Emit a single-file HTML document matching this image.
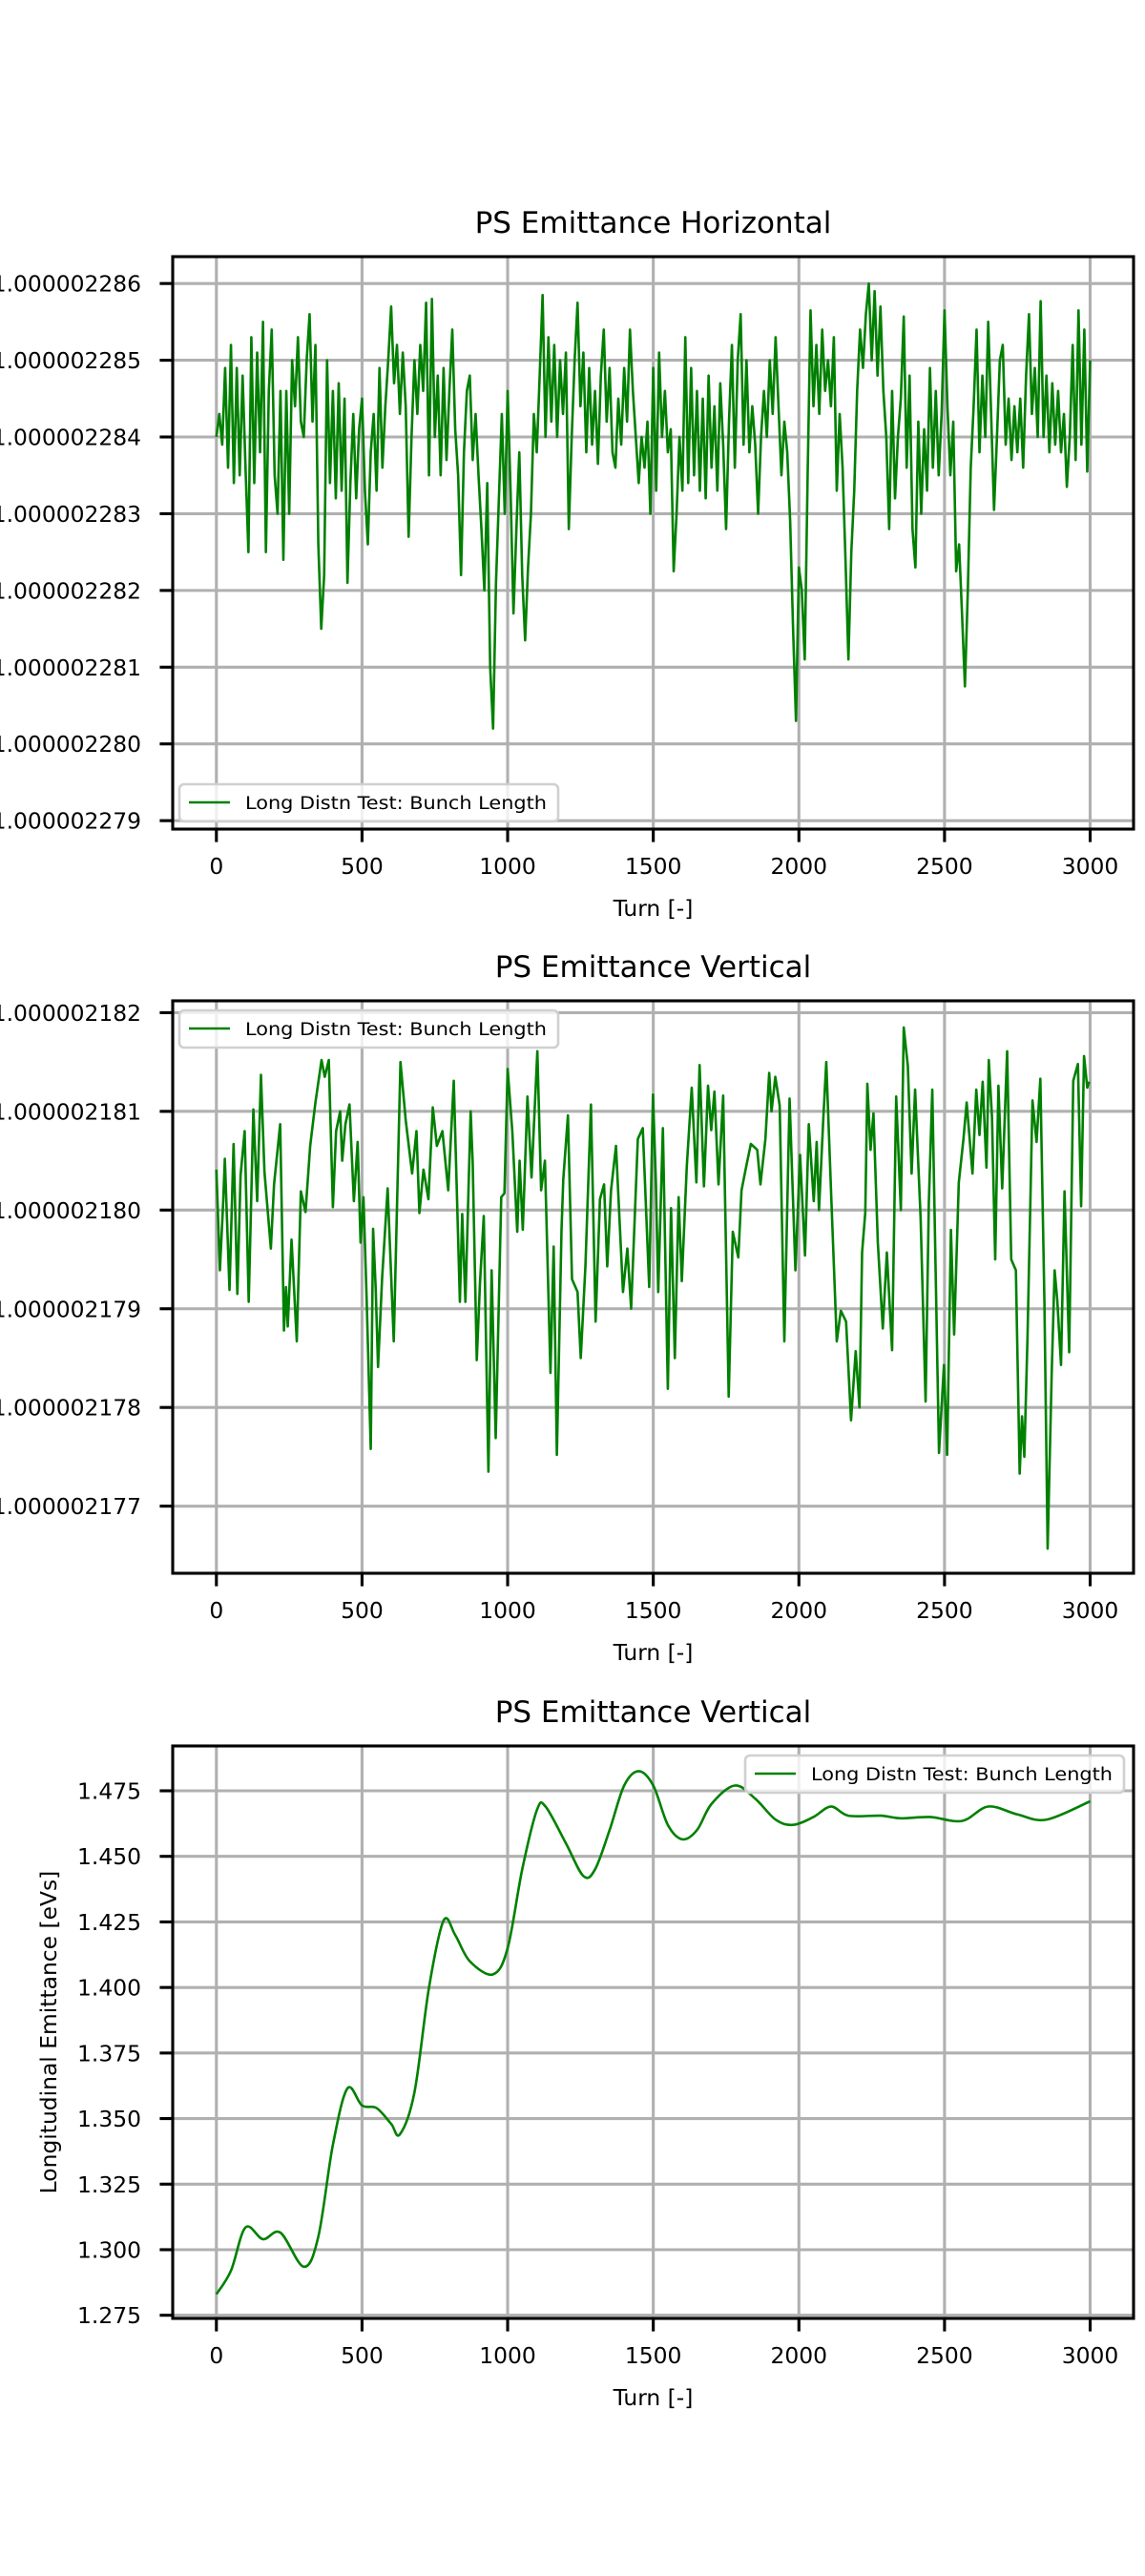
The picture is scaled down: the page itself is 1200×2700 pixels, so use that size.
<!DOCTYPE html>
<html><head><meta charset="utf-8"><title>PS Emittance</title>
<style>html,body{margin:0;padding:0;background:#fff;}svg{display:block;font-family:"DejaVu Sans","Liberation Sans",sans-serif;}</style>
</head><body>
<svg id="fig" width="1200" height="2700" viewBox="0 0 1200 2700" xmlns="http://www.w3.org/2000/svg"></svg>
<script>
// ---------- data ----------
const xTicks = [0, 500, 1000, 1500, 2000, 2500, 3000];
// Chart 1: values are (v - 1.000002280) in units of 1e-9; sampled every turnStep1 turns
const turnStep1 = 10;
const hVals = [4.0,4.3,3.9,4.9,3.6,5.2,3.4,4.9,3.5,4.8,3.6,
2.5,5.3,3.4,5.1,3.8,5.5,2.5,4.6,5.4,3.5,
3.0,4.6,2.4,4.6,3.0,5.0,4.4,5.3,4.2,4.0,
5.0,5.6,4.2,5.2,2.6,1.5,2.2,5.0,3.4,4.6,
3.2,4.7,3.3,4.5,2.1,3.4,4.3,3.2,4.1,4.5,
3.3,2.6,3.8,4.3,3.3,4.9,3.6,4.4,5.0,5.7,
4.7,5.2,4.3,5.1,4.4,2.7,4.0,5.0,4.3,5.2,
4.6,5.75,3.5,5.8,4.0,4.8,3.5,4.9,3.7,4.6,
5.4,4.1,3.5,2.2,3.8,4.6,4.8,3.7,4.3,3.5,
2.8,2.0,3.4,1.0,0.2,2.1,3.2,4.3,3.0,4.6,
3.3,1.7,2.8,3.8,2.2,1.35,2.3,3.0,4.3,3.8,
4.8,5.85,4.0,5.3,4.2,5.2,4.0,5.0,4.3,5.1,
2.8,4.0,5.0,5.75,4.4,5.1,3.8,4.9,3.9,4.6,
3.65,4.8,5.4,4.2,4.9,3.8,3.6,4.5,3.9,4.9,
4.2,5.4,4.6,4.0,3.4,4.0,3.6,4.2,3.0,4.9,
3.3,5.1,4.0,4.6,3.8,4.1,2.25,3.0,4.0,3.3,
5.3,3.4,4.9,3.5,4.6,3.3,4.5,3.2,4.8,3.6,
4.4,3.3,4.7,3.9,2.8,4.2,5.2,3.6,5.0,5.6,
3.9,5.0,3.8,4.4,3.9,3.0,4.0,4.6,4.0,5.0,
4.3,5.3,4.4,3.5,4.2,3.8,2.9,1.5,0.3,2.3,
2.0,1.1,3.5,5.65,4.4,5.2,4.3,5.4,4.6,5.0,
4.4,5.3,3.3,4.3,3.6,2.4,1.1,2.5,3.3,4.6,
5.4,4.9,5.6,6.0,5.0,5.9,4.8,5.7,4.6,4.0,
2.8,4.6,3.2,4.0,4.5,5.57,3.6,4.8,2.8,2.3,
4.2,3.0,4.1,3.3,4.9,3.6,4.6,3.5,4.3,5.65,
4.4,3.5,4.2,2.25,2.6,1.7,0.75,2.0,3.6,4.4,
5.4,3.8,4.8,4.0,5.5,4.3,3.05,4.0,5.0,5.2,
3.9,4.5,3.7,4.4,3.8,4.5,3.6,4.8,5.6,4.3,
4.9,4.0,5.77,4.0,4.8,3.8,4.7,3.9,4.6,3.8,
4.3,3.35,4.0,5.2,3.7,5.65,3.9,5.4,3.55,5.0];
const hTickVals = [279,280,281,282,283,284,285,286];
const hTickLabels = ["1.000002279","1.000002280","1.000002281","1.000002282","1.000002283","1.000002284","1.000002285","1.000002286"];

// Chart 2: values in units of 1e-10 (80 -> 1.0000021800)
const vTurns = [0,12,23,29,45,59,72,83,97,111,127,140,153,165,187,198,219,232,239,245,258,276,290,306,322,340,361,372,386,400,411,425,432,443,457,472,485,495,505,516,530,538,547,555,569,588,609,632,650,672,687,697,711,728,743,757,776,796,815,836,844,855,873,880,894,905,918,934,945,959,978,989,1000,1016,1033,1041,1052,1068,1082,1102,1115,1128,1147,1158,1169,1185,1191,1207,1221,1240,1251,1267,1286,1302,1317,1331,1342,1355,1372,1396,1411,1424,1447,1464,1486,1499,
1509,1517,1533,1550,1561,1574,1587,1598,1615,1632,1648,1659,1674,1688,1699,1710,1724,1740,1759,1773,1792,1803,1819,1835,1857,1868,1885,1898,1906,1919,1934,1950,1968,1988,2004,2021,2034,2051,2061,2069,2084,2094,2110,2130,2144,2162,2179,2195,2208,2217,2228,2235,2246,2256,2271,2288,2302,2320,2334,2350,2360,2374,2387,2399,2418,2435,2446,2458,2481,2498,2509,2522,2533,2549,2565,2576,2596,2609,2620,2631,2644,2652,2663,2674,2685,2698,2715,2729,2745,2758,2766,2774,2785,2802,2816,2829,2843,2854,2868,2878,2887,2900,2912,2928,2942,2958,2969,2979,2990,2997];
const vVals = [80.41,79.39,80.06,80.52,79.19,80.67,79.15,80.35,80.80,79.07,81.02,80.09,81.37,80.39,79.61,80.26,80.87,78.78,79.22,78.82,79.70,78.67,80.19,79.98,80.65,81.09,81.52,81.35,81.52,80.03,80.80,81.0,80.50,80.87,81.07,80.09,80.69,79.67,80.13,79.09,77.58,79.81,79.20,78.41,79.31,80.22,78.67,81.50,80.91,80.37,80.80,79.97,80.41,80.11,81.04,80.65,80.80,80.20,81.31,79.07,79.96,79.07,81.0,80.48,78.48,79.26,79.94,77.35,79.39,77.69,80.13,80.17,81.43,80.80,79.78,80.50,79.80,81.15,80.33,81.61,80.20,80.50,78.35,79.63,77.52,79.80,80.31,80.96,79.30,79.17,78.50,79.43,81.07,78.87,80.11,80.26,79.43,80.20,80.65,79.17,79.61,79.0,80.72,80.83,79.22,81.17,
80.28,79.17,80.83,78.19,80.02,78.50,80.13,79.28,80.44,81.24,80.28,81.47,80.24,81.26,80.81,81.20,80.26,81.16,78.11,79.78,79.52,80.20,80.44,80.67,80.61,80.26,80.72,81.39,81.0,81.35,81.06,78.67,81.13,79.39,80.56,79.54,80.87,80.09,80.69,80.0,80.94,81.50,80.22,78.67,78.98,78.87,77.87,78.57,78.0,79.57,79.98,81.28,80.61,80.98,79.67,78.80,79.57,78.58,81.15,80.0,81.85,81.46,80.37,81.22,79.91,78.06,80.06,81.22,77.54,78.43,77.52,79.80,78.74,80.28,80.72,81.09,80.37,81.22,80.76,81.30,80.43,81.52,80.94,79.50,81.26,80.22,81.61,79.50,79.39,77.33,77.91,77.50,78.72,81.11,80.69,81.33,79.06,76.57,78.35,79.39,79.09,78.43,80.19,78.56,81.31,81.48,80.04,81.56,81.24,81.30];
const vTickVals = [77,78,79,80,81,82];
const vTickLabels = ["1.000002177","1.000002178","1.000002179","1.000002180","1.000002181","1.000002182"];

// Chart 3
const lTurns = [0,50,100,160,220,300,350,400,450,500,550,600,630,680,730,780,820,870,950,1000,1050,1100,1130,1200,1260,1300,1350,1400,1450,1500,1550,1600,1650,1700,1780,1850,1920,1980,2050,2110,2170,2280,2350,2450,2560,2650,2750,2850,3000];
const lVals = [1.283,1.292,1.3085,1.304,1.3065,1.2935,1.305,1.340,1.3615,1.355,1.354,1.348,1.344,1.360,1.400,1.4255,1.420,1.410,1.405,1.415,1.445,1.4675,1.469,1.455,1.4425,1.445,1.460,1.477,1.4825,1.477,1.462,1.4565,1.460,1.470,1.477,1.472,1.464,1.462,1.465,1.469,1.4655,1.4655,1.4645,1.465,1.4635,1.469,1.466,1.464,1.471];
const lTickVals = [1.275,1.300,1.325,1.350,1.375,1.400,1.425,1.450,1.475];
const lTickLabels = ["1.275","1.300","1.325","1.350","1.375","1.400","1.425","1.450","1.475"];

// ---------- drawing ----------
const NS = "http://www.w3.org/2000/svg";
const svg = document.getElementById('fig');
const AX_L = 181, AX_R = 1188, AX_H = 600;
const XMIN = -150, XMAX = 3149;
function sx(t){ return AX_L + (t - XMIN) / (XMAX - XMIN) * (AX_R - AX_L); }
function mk(tag, parent){ const e = document.createElementNS(NS, tag); parent.appendChild(e); return e; }

function smoothPath(P){
  let d = 'M' + P[0][0].toFixed(2) + ',' + P[0][1].toFixed(2);
  for (let i = 0; i < P.length - 1; i++){
    const p0 = P[i > 0 ? i - 1 : i], p1 = P[i], p2 = P[i + 1], p3 = P[i + 2 < P.length ? i + 2 : i + 1];
    const c1x = p1[0] + (p2[0] - p0[0]) / 6, c1y = p1[1] + (p2[1] - p0[1]) / 6;
    const c2x = p2[0] - (p3[0] - p1[0]) / 6, c2y = p2[1] - (p3[1] - p1[1]) / 6;
    d += ' C' + c1x.toFixed(2) + ',' + c1y.toFixed(2) + ' ' + c2x.toFixed(2) + ',' + c2y.toFixed(2) + ' ' + p2[0].toFixed(2) + ',' + p2[1].toFixed(2);
  }
  return d;
}

function drawChart(cfg){
  const g = mk('g', svg);
  
  
  const top = cfg.top, bot = cfg.top + AX_H;
  const sy = v => bot - (v - cfg.ymin) / (cfg.ymax - cfg.ymin) * AX_H;
  const grid = mk('g', g);
  
  
  xTicks.forEach(t => {
    const l = mk('line', grid);
    
    
    l.setAttribute('x1', sx(t)); l.setAttribute('x2', sx(t));
    l.setAttribute('y1', top); l.setAttribute('y2', bot);
    l.setAttribute('stroke', '#b0b0b0'); l.setAttribute('stroke-width', '3.1');
  });
  cfg.ticks.forEach(v => {
    const l = mk('line', grid);
    
    
    l.setAttribute('x1', AX_L); l.setAttribute('x2', AX_R);
    l.setAttribute('y1', sy(v)); l.setAttribute('y2', sy(v));
    l.setAttribute('stroke', '#b0b0b0'); l.setAttribute('stroke-width', '3.1');
  });
  const P = cfg.xs.map((t, i) => [sx(t), sy(cfg.ys[i])]);
  if (cfg.smooth) {
    const pa = mk('path', g);
    
    
    pa.setAttribute('d', smoothPath(P));
    pa.setAttribute('fill', 'none'); pa.setAttribute('stroke', '#008000'); pa.setAttribute('stroke-width', '2.6');
  } else {
    const pl = mk('polyline', g);
    
    
    pl.setAttribute('points', P.map(p => p[0].toFixed(2) + ',' + p[1].toFixed(2)).join(' '));
    pl.setAttribute('fill', 'none'); pl.setAttribute('stroke', '#008000');
    pl.setAttribute('stroke-width', '2.6'); pl.setAttribute('stroke-linejoin', 'round');
  }
  const sp = mk('rect', g);
  
  
  sp.setAttribute('x', AX_L); sp.setAttribute('y', top);
  sp.setAttribute('width', AX_R - AX_L); sp.setAttribute('height', AX_H);
  sp.setAttribute('fill', 'none'); sp.setAttribute('stroke', '#000'); sp.setAttribute('stroke-width', '3.1');
  xTicks.forEach(t => {
    const l = mk('line', g);
    
    
    l.setAttribute('x1', sx(t)); l.setAttribute('x2', sx(t));
    l.setAttribute('y1', bot); l.setAttribute('y2', bot + 13.6);
    l.setAttribute('stroke', '#000'); l.setAttribute('stroke-width', '3.1');
    const tx = mk('text', g);
    
    
    tx.setAttribute('x', sx(t)); tx.setAttribute('y', bot + 47);
    tx.setAttribute('text-anchor', 'middle'); tx.setAttribute('font-size', '23.4');
    tx.textContent = String(t);
  });
  cfg.ticks.forEach((v, i) => {
    const l = mk('line', g);
    
    
    l.setAttribute('x1', AX_L - 13.6); l.setAttribute('x2', AX_L);
    l.setAttribute('y1', sy(v)); l.setAttribute('y2', sy(v));
    l.setAttribute('stroke', '#000'); l.setAttribute('stroke-width', '3.1');
    const tx = mk('text', g);
    
    
    tx.setAttribute('x', 148); tx.setAttribute('y', sy(v) + 8.5);
    tx.setAttribute('text-anchor', 'end'); tx.setAttribute('font-size', '23.4');
    tx.textContent = cfg.labels[i];
  });
  const ti = mk('text', g);
  
  
  ti.setAttribute('x', (AX_L + AX_R) / 2); ti.setAttribute('y', top - 25);
  ti.setAttribute('text-anchor', 'middle'); ti.setAttribute('font-size', '31');
  ti.textContent = cfg.title;
  const xl = mk('text', g);
  
  
  xl.setAttribute('x', (AX_L + AX_R) / 2); xl.setAttribute('y', bot + 91);
  xl.setAttribute('text-anchor', 'middle'); xl.setAttribute('font-size', '23.4');
  xl.textContent = 'Turn [-]';
  if (cfg.ylabel) {
    const yl = mk('text', g);
    
    
    yl.setAttribute('transform', 'translate(59,' + (top + AX_H / 2) + ') rotate(-90)');
    yl.setAttribute('text-anchor', 'middle'); yl.setAttribute('font-size', '23.4');
    yl.textContent = cfg.ylabel;
  }
  const lg = mk('g', g);
  
  
  const lx = cfg.legX, ly = cfg.legY;
  const box = mk('rect', lg);
  
  
  box.setAttribute('x', lx); box.setAttribute('y', ly);
  box.setAttribute('width', 397); box.setAttribute('height', 39); box.setAttribute('rx', 5);
  box.setAttribute('fill', 'rgba(255,255,255,0.8)'); box.setAttribute('stroke', '#d0d0d0'); box.setAttribute('stroke-width', '2.6');
  const ll = mk('line', lg);
  
  
  ll.setAttribute('x1', lx + 10); ll.setAttribute('x2', lx + 53);
  ll.setAttribute('y1', ly + 19); ll.setAttribute('y2', ly + 19);
  ll.setAttribute('stroke', '#008000'); ll.setAttribute('stroke-width', '2.6');
  const lt = mk('text', lg);
  
  
  lt.setAttribute('x', lx + 69); lt.setAttribute('y', ly + 26);
  lt.setAttribute('font-size', '18.7'); lt.setAttribute('textLength', '316');
  lt.setAttribute('lengthAdjust', 'spacingAndGlyphs');
  lt.textContent = 'Long Distn Test: Bunch Length';
}

drawChart({name:'horizontal-emittance-chart', top:269, ymin:278.89, ymax:286.35,
  xs: hVals.map((v, i) => i * turnStep1), ys: hVals.map(v => 280 + v),
  ticks: hTickVals, labels: hTickLabels, title: 'PS Emittance Horizontal', legX:188, legY:822});
drawChart({name:'vertical-emittance-chart', top:1049, ymin:76.32, ymax:82.12,
  xs: vTurns, ys: vVals, ticks: vTickVals, labels: vTickLabels,
  title: 'PS Emittance Vertical', legX:188, legY:1059});
drawChart({name:'longitudinal-emittance-chart', top:1830, ymin:1.2738, ymax:1.4921,
  xs: lTurns, ys: lVals, ticks: lTickVals, labels: lTickLabels, smooth: true,
  title: 'PS Emittance Vertical', ylabel: 'Longitudinal Emittance [eVs]', legX:781, legY:1840});
</script>
</body></html>
